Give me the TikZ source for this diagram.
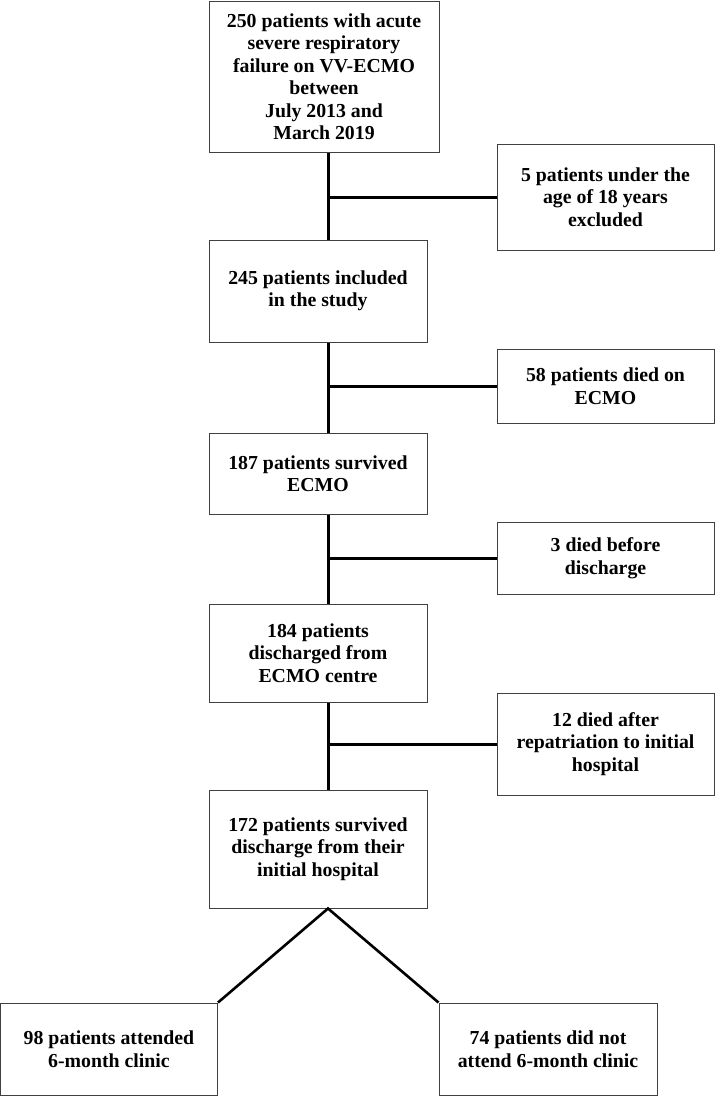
\documentclass[tikz,border=0pt]{standalone}
\usepackage{fontspec}
\setmainfont{Liberation Serif}
\usetikzlibrary{positioning}

\begin{document}
\begin{tikzpicture}[
    x=1pt, y=-1pt,
    box/.style={rectangle, draw=black!75, line width=1pt, align=center, inner sep=0pt, minimum width=218pt, font=\fontsize{19.8}{22.5}\selectfont\bfseries},
    trunk/.style={line width=3pt},
    split/.style={line width=2.6pt}
]
    \useasboundingbox (0,0) rectangle (715,1096);

    % Main column of the flow chart
    \node [box, minimum width=230pt, minimum height=151pt] (total) at (324,76.5) {250 patients with acute\\severe respiratory\\failure on VV-ECMO\\between\\July 2013 and\\March 2019};
    \node [box, minimum height=102pt] (included) at (318,291) {245 patients included\\in the study};
    \node [box, minimum height=81pt] (survecmo) at (318,473.5) {187 patients survived\\ECMO};
    \node [box, minimum height=98pt] (discharged) at (318,653) {184 patients\\discharged from\\ECMO centre};
    \node [box, minimum height=118pt] (survhosp) at (318,849) {172 patients survived\\discharge from their\\initial hospital};

    % Side boxes (losses)
    \node [box, minimum width=217pt, minimum height=106pt] (excluded) at (605.5,197) {5 patients under the\\age of 18 years\\excluded};
    \node [box, minimum width=217pt, minimum height=74pt] (diedecmo) at (605.5,386) {58 patients died on\\ECMO};
    \node [box, minimum width=217pt, minimum height=72pt] (diedbefore) at (605.5,558) {3 died before\\discharge};
    \node [box, minimum width=217pt, minimum height=102pt] (diedafter) at (605.5,744) {12 died after\\repatriation to initial\\hospital};

    % Follow-up at 6 months
    \node [box, minimum width=217pt, minimum height=92pt] (attended) at (109,1049) {98 patients attended\\6-month clinic};
    \node [box, minimum height=92pt] (notattended) at (548,1049) {74 patients did not\\attend 6-month clinic};

    % Junctions on the trunk
    \coordinate (j1) at (excluded.west -| 328,0);
    \coordinate (j2) at (diedecmo.west -| 328,0);
    \coordinate (j3) at (diedbefore.west -| 328,0);
    \coordinate (j4) at (diedafter.west -| 328,0);
    \coordinate (apex) at (survhosp.south -| 328,0);

    \draw [trunk] (total.south -| j1) -- (included.north -| j1);
    \draw [trunk] (included.south -| j2) -- (survecmo.north -| j2);
    \draw [trunk] (survecmo.south -| j3) -- (discharged.north -| j3);
    \draw [trunk] (discharged.south -| j4) -- (survhosp.north -| j4);

    \draw [trunk] (j1) -- (excluded.west);
    \draw [trunk] (j2) -- (diedecmo.west);
    \draw [trunk] (j3) -- (diedbefore.west);
    \draw [trunk] (j4) -- (diedafter.west);

    \draw [split] (attended.north east) -- (apex) -- (notattended.north west);

\end{tikzpicture}
\end{document}
